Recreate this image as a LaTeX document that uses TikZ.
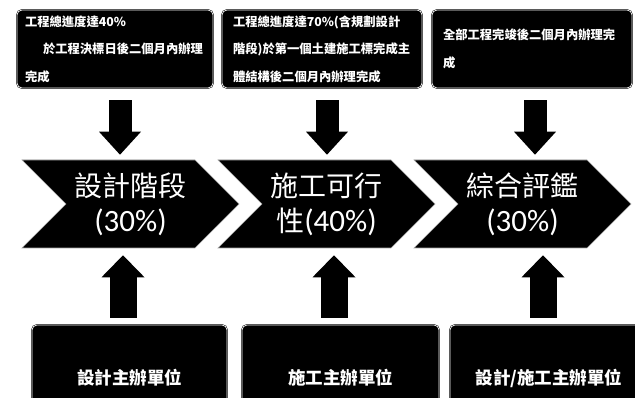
\documentclass[tikz,border=0pt]{standalone}
\usepackage{fontspec}
\setmainfont{Noto Sans CJK TC}
\newfontfamily\latinf{Carlito}
\usetikzlibrary{shapes.symbols,arrows.meta}
\begin{document}
\begin{tikzpicture}[x=1pt,y=-1pt,
  box/.style={rectangle,rounded corners=5pt,fill=black,draw=black,line width=0.5pt,double=white,double distance=0.7pt,text=white,inner ysep=0pt},
  topbox/.style={box,minimum height=78pt,align=left,font=\fontsize{12.3pt}{27.5pt}\selectfont\bfseries},
  chev/.style={signal,signal to=east,signal from=west,signal pointer angle=90,fill=black,draw=gray!70,line width=0.6pt,minimum width=217pt,minimum height=88pt,inner sep=0pt,text=white,align=center,font=\fontsize{28pt}{35pt}\selectfont},
  botbox/.style={box,inner sep=0pt,minimum height=106pt,font=\fontsize{17.5pt}{20pt}\selectfont\bfseries},
  downarr/.style={line width=23pt,-{Triangle[width=42pt 0 0,length=23pt 0 0,line width=0pt 0 0]}},
  uparr/.style={line width=27pt,-{Triangle[width=43pt 0 0,length=22pt 0 0,line width=0pt 0 0]}},
]
\fill[white] (0,0) rectangle (635,398);
\clip (0,0) rectangle (635,398);

% top boxes
\node[topbox,text width=180pt,inner xsep=8pt] (t1) at (115,49)
  {工程總進度達40\%\\\hspace*{18pt}於工程決標日後二個月內辦理\\完成};
\node[topbox,text width=178pt,inner xsep=11pt] (t2) at (322,49)
  {工程總進度達70\%(含規劃設計\\階段)於第一個土建施工標完成主\\體結構後二個月內辦理完成};
\node[topbox,text width=178pt,inner xsep=11pt] (t3) at (532,49)
  {全部工程完竣後二個月內辦理完\\成};

% chevrons
\node[chev] (c1) at (130.5,204) {設計階段\\{\latinf\fontsize{31pt}{35pt}\selectfont (30\%)}};
\node[chev] (c2) at (326.5,204) {施工可行\\性{\latinf\fontsize{31pt}{35pt}\selectfont (40\%)}};
\node[chev] (c3) at (522.5,204) {綜合評鑑\\{\latinf\fontsize{31pt}{35pt}\selectfont (30\%)}};

% bottom boxes
\node[botbox,minimum width=195pt] (b1) at (129.5,378) {設計主辦單位};
\node[botbox,minimum width=197pt] (b2) at (340.5,378) {施工主辦單位};
\node[botbox,minimum width=198pt] (b3) at (549,378) {設計/施工主辦單位};

% arrow columns
\coordinate (d1) at (120,0);
\coordinate (d2) at (327,0);
\coordinate (d3) at (535,0);
\coordinate (u1) at (123,0);
\coordinate (u2) at (334,0);
\coordinate (u3) at (543,0);

\draw[downarr,shorten <=12pt,shorten >=5pt] (t1.south -| d1) -- (c1.north -| d1);
\draw[downarr,shorten <=12pt,shorten >=5pt] (t2.south -| d2) -- (c2.north -| d2);
\draw[downarr,shorten <=12pt,shorten >=5pt] (t3.south -| d3) -- (c3.north -| d3);

\draw[uparr,shorten <=7pt,shorten >=7pt] (b1.north -| u1) -- (c1.south -| u1);
\draw[uparr,shorten <=7pt,shorten >=7pt] (b2.north -| u2) -- (c2.south -| u2);
\draw[uparr,shorten <=7pt,shorten >=7pt] (b3.north -| u3) -- (c3.south -| u3);
\end{tikzpicture}
\end{document}
